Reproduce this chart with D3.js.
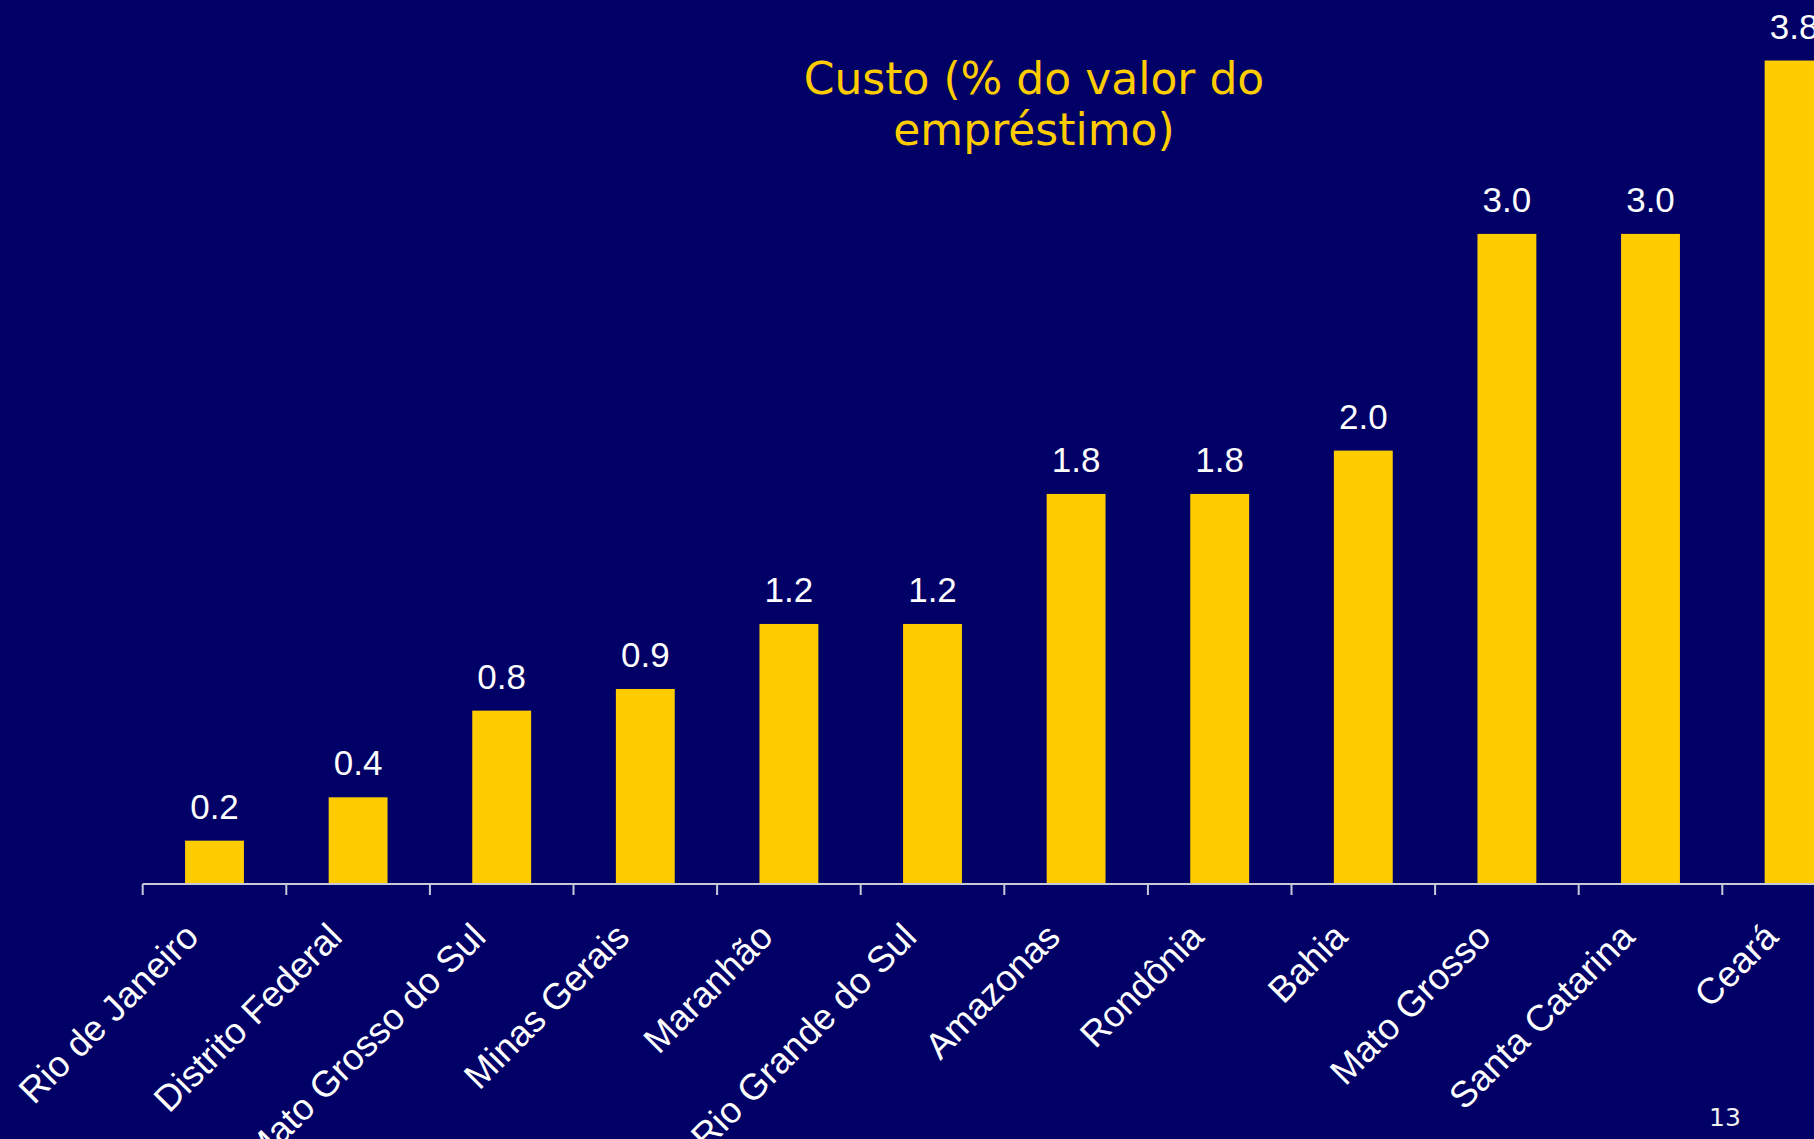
<!doctype html>
<html>
  <head>
    <script src="https://d3js.org/d3.v7.min.js"></script>
    <style>
      body { margin: 0; background: #000066; }
      text.title { font-family: "DejaVu Sans", Verdana, sans-serif; font-size: 44px; fill: #FFCC00; }
      text.value { font-family: "Liberation Sans", Arial, sans-serif; font-size: 35px; fill: #FFFFFF; }
      text.label { font-family: "Liberation Sans", Arial, sans-serif; font-size: 36.5px; fill: #FFFFFF; }
      text.page { font-family: "DejaVu Sans", Verdana, sans-serif; font-size: 25px; fill: #F0F0F0; }
      .bar { fill: #FFCC00; }
      line.axis { stroke: #C8C8D8; stroke-width: 2; }
    </style>
  </head>
  <body>
    <svg id="chart" width="1814" height="1139"></svg>
    <script>
      // estados, ordenados pelo custo
      const states = ['Rio de Janeiro', 'Distrito Federal', 'Mato Grosso do Sul', 'Minas Gerais',
                      'Maranhão', 'Rio Grande do Sul', 'Amazonas', 'Rondônia', 'Bahia',
                      'Mato Grosso', 'Santa Catarina', 'Ceará'];
      const cost = [0.2, 0.4, 0.8, 0.9, 1.2, 1.2, 1.8, 1.8, 2.0, 3.0, 3.0, 3.8];
      const titleLines = ['Custo (% do valor do', 'empréstimo)'];
      const pageNumber = '13';

      const data = states.map((s, i) => ({ state: s, value: cost[i] }));

      const svg = d3.select('#chart');

      svg.append('rect')
        .attr('width', 1814)
        .attr('height', 1139)
        .attr('fill', '#000066');

      const baseY = 884;

      // the last band runs off the right edge, like the slide
      const xScale = d3.scaleBand()
        .domain(states)
        .range([142.7, 142.7 + 12 * 143.6])
        .paddingInner(0.59)
        .paddingOuter(0.295);

      const yScale = d3.scaleLinear()
        .domain([0, 4])
        .range([baseY, baseY - 4 * 216.7]);

      const gap = (xScale.step() - xScale.bandwidth()) / 2;

      svg.selectAll('.bar')
        .data(data)
        .enter()
        .append('rect').attr('class', 'bar')
        .attr('x', d => xScale(d.state))
        .attr('y', d => yScale(d.value))
        .attr('width', xScale.bandwidth())
        .attr('height', d => baseY - yScale(d.value));

      // axis line and category boundary ticks
      svg.append('line').attr('class', 'axis')
        .attr('x1', xScale.range()[0]).attr('x2', 1814)
        .attr('y1', baseY).attr('y2', baseY);

      svg.selectAll('.tick')
        .data(states)
        .enter()
        .append('line').attr('class', 'axis')
        .attr('x1', d => xScale(d) - gap)
        .attr('x2', d => xScale(d) - gap)
        .attr('y1', baseY)
        .attr('y2', baseY + 11);

      svg.selectAll('.value')
        .data(data)
        .enter()
        .append('text').attr('class', 'value')
        .attr('x', d => xScale(d.state) + xScale.bandwidth() / 2)
        .attr('y', d => yScale(d.value) - 22)
        .attr('text-anchor', 'middle')
        .text(d => d3.format('.1f')(d.value));

      svg.selectAll('.label')
        .data(states)
        .enter()
        .append('text').attr('class', 'label')
        .attr('text-anchor', 'end')
        .attr('transform', d => `translate(${xScale(d) + xScale.bandwidth() / 2 - 14}, ${baseY + 55}) rotate(-45)`)
        .text(d => d);

      svg.append('text').attr('class', 'title')
        .attr('text-anchor', 'middle')
        .selectAll('tspan')
        .data(titleLines)
        .enter()
        .append('tspan')
        .attr('x', 1034)
        .attr('y', (d, i) => 94 + i * 51)
        .text(d => d);

      svg.append('text').attr('class', 'page')
        .attr('x', 1709)
        .attr('y', 1126)
        .text(pageNumber);
    </script>
  </body>
</html>
